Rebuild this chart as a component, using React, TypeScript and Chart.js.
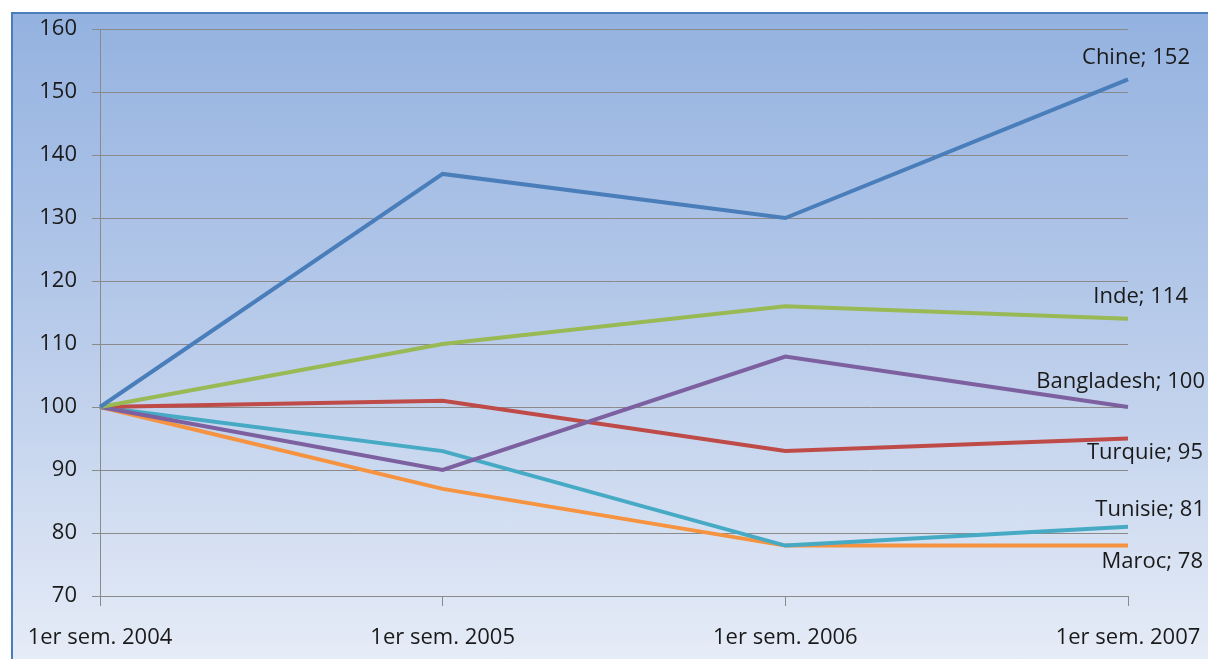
import React, { useEffect, useRef } from "react";
import { Chart, registerables } from "chart.js";

Chart.register(...registerables);

const categories = ["1er sem. 2004", "1er sem. 2005", "1er sem. 2006", "1er sem. 2007"];
const seriesNames = ["Chine", "Inde", "Bangladesh", "Turquie", "Tunisie", "Maroc"];
const chine = [100, 137, 130, 152];
const inde = [100, 110, 116, 114];
const bangladesh = [100, 90, 108, 100];
const turquie = [100, 101, 93, 95];
const tunisie = [100, 93, 78, 81];
const maroc = [100, 87, 78, 78];
const yTicks = [70, 80, 90, 100, 110, 120, 130, 140, 150, 160];

const seriesValues = [chine, inde, bangladesh, turquie, tunisie, maroc];
const colors = ["#4a7ebb", "#98b954", "#7d60a0", "#be4b48", "#46aac5", "#f59340"];
// label anchor offsets (right edge of text, vertical centre) relative to last point
const labelOffsets = [
  { dx: 62, dy: -22 },
  { dx: 60, dy: -22 },
  { dx: 77, dy: -25 },
  { dx: 75, dy: 14 },
  { dx: 77, dy: -17 },
  { dx: 75, dy: 16 },
];

const FONT = "'Open Sans', Lato, sans-serif";
const FSIZE = 22;

const endLabels = {
  id: "endLabels",
  afterDatasetsDraw(chart: any) {
    const ctx = chart.ctx;
    ctx.save();
    ctx.font = `${FSIZE}px ${FONT}`;
    ctx.fillStyle = "#1a1a1a";
    ctx.textAlign = "right";
    ctx.textBaseline = "middle";
    chart.data.datasets.forEach((ds: any, i: number) => {
      const meta = chart.getDatasetMeta(i);
      const pts = meta.data;
      const p = pts[pts.length - 1];
      const v = ds.data[ds.data.length - 1];
      const o = labelOffsets[i];
      ctx.fillText(`${ds.label}; ${v}`, p.x + o.dx, p.y + o.dy);
    });
    ctx.restore();
  },
};

export default function App() {
  const ref = useRef<HTMLCanvasElement>(null);
  useEffect(() => {
    if (!ref.current) return;
    const chart = new Chart(ref.current, {
      type: "line",
      data: {
        labels: categories,
        datasets: seriesNames.map((name, i) => ({
          label: name,
          data: seriesValues[i],
          borderColor: colors[i],
          backgroundColor: colors[i],
          borderWidth: 4,
          pointRadius: 0,
          tension: 0,
        })),
      },
      options: {
        animation: false,
        responsive: false,
        maintainAspectRatio: false,
        layout: { padding: { left: 0, top: 15, right: 80, bottom: 0 } },
        plugins: {
          legend: { display: false },
          tooltip: { enabled: false },
        },
        scales: {
          x: {
            offset: false,
            grid: {
              display: true,
              drawOnChartArea: false,
              drawTicks: true,
              tickLength: 10,
              color: "#8a8a8a",
            },
            border: { display: true, color: "#8a8a8a", width: 1 },
            ticks: {
              color: "#1a1a1a",
              font: { family: FONT, size: FSIZE },
              padding: 19,
              maxRotation: 0,
              autoSkip: false,
            },
            afterFit(scale: any) {
              scale.height = 63;
              scale.paddingLeft = 0;
              scale.paddingRight = 0;
            },
          },
          y: {
            min: 70,
            max: 160,
            afterBuildTicks(scale: any) {
              scale.ticks = yTicks.map((v) => ({ value: v }));
            },
            grid: {
              color: "#8a8a8a",
              lineWidth: 1,
              tickLength: 8,
              drawTicks: true,
            },
            border: { display: true, color: "#8a8a8a", width: 1 },
            ticks: {
              color: "#1a1a1a",
              font: { family: FONT, size: FSIZE },
              padding: 15,
            },
            afterFit(scale: any) {
              scale.width = 87;
              scale.paddingTop = 0;
              scale.paddingBottom = 0;
            },
          },
        },
      },
      plugins: [endLabels],
    } as any);
    return () => chart.destroy();
  }, []);

  return (
    <div
      style={{
        position: "fixed",
        left: 0,
        top: 0,
        width: "100vw",
        height: "100vh",
        overflow: "hidden",
        background: "#ffffff",
      }}
    >
      <div
        style={{
          position: "absolute",
          left: 11,
          top: 12,
          width: 1230,
          height: 680,
          boxSizing: "border-box",
          borderLeft: "2px solid #4a7ebb",
          borderTop: "2px solid #4a7ebb",
          background: "linear-gradient(to bottom, #94b2e0 0px, #b8cbea 320px, #e6ecf7 647px)",
        }}
      >
        <canvas ref={ref} width={1195} height={645} style={{ display: "block" }} />
      </div>
    </div>
  );
}
